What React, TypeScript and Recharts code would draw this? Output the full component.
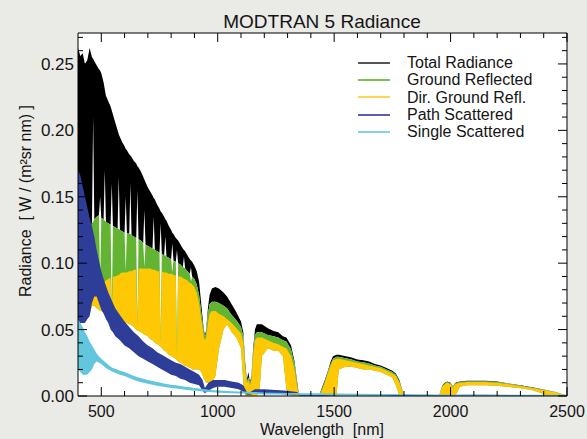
import React from 'react';
import { ComposedChart, Area, XAxis, YAxis, CartesianGrid, Legend } from 'recharts';

// main spectral grid (nm) shared by the ground-reflected components
const wavelengths = [
  400, 410, 420, 430, 440, 450, 460, 465, 470, 480,
  490, 495, 500, 510, 515, 520, 530, 540, 545, 550,
  560, 570, 575, 580, 590, 600, 605, 610, 620, 625,
  630, 640, 650, 655, 660, 670, 680, 685, 690, 700,
  710, 720, 725, 730, 740, 750, 755, 760, 770, 775,
  780, 790, 800, 805, 810, 820, 825, 830, 840, 850,
  855, 860, 870, 880, 885, 890, 900, 910, 920, 930,
  940, 945, 950, 958, 965, 975, 990, 1005, 1025, 1040,
  1060, 1080, 1100, 1110, 1118, 1125, 1132, 1138, 1145, 1152,
  1160, 1168, 1180, 1190, 1215, 1240, 1260, 1280, 1295, 1315,
  1330, 1340, 1348, 1355, 1435, 1445, 1460, 1475, 1485, 1495,
  1510, 1520, 1550, 1575, 1600, 1625, 1650, 1675, 1700, 1725,
  1750, 1765, 1780, 1790, 1800, 1810, 1950, 1965, 1975, 1985,
  2000, 2010, 2020, 2040, 2070, 2100, 2150, 2200, 2250, 2300,
  2350, 2390, 2410, 2450, 2480, 2500,
];

// lower edge of the filled bands (white shows below it)
const shadowFloor = [
  0.056, 0.056, 0.056, 0.056, 0.058, 0.062, 0.068, 0.068, 0.068, 0.066,
  0.065, 0.064, 0.064, 0.063, 0.062, 0.062, 0.061, 0.060, 0.060, 0.060,
  0.059, 0.058, 0.058, 0.057, 0.057, 0.056, 0.055, 0.055, 0.054, 0.054,
  0.053, 0.052, 0.050, 0.049, 0.049, 0.048, 0.047, 0.046, 0.046, 0.045,
  0.043, 0.042, 0.041, 0.040, 0.039, 0.038, 0.037, 0.036, 0.034, 0.034,
  0.033, 0.031, 0.030, 0.030, 0.029, 0.028, 0.027, 0.026, 0.025, 0.024,
  0.023, 0.023, 0.022, 0.021, 0.021, 0.020, 0.020, 0.020, 0.020, 0.018,
  0.013, 0.012, 0.010, 0.010, 0.010, 0.010, 0.015, 0.035, 0.050, 0.054,
  0.048, 0.044, 0.036, 0.010, 0, 0, 0, 0, 0, 0,
  0, 0, 0.005, 0.030, 0.036, 0.034, 0.034, 0.030, 0.005, 0,
  0, 0, 0, 0, 0, 0, 0, 0, 0, 0,
  0, 0.020, 0.022, 0.022, 0.021, 0.020, 0.020, 0.019, 0.018, 0.016,
  0.014, 0.008, 0, 0, 0, 0, 0, 0, 0, 0,
  0, 0, 0, 0.007, 0.008, 0.008, 0.008, 0.0078, 0.0068, 0.0058,
  0.0045, 0.002, 0, 0, 0, 0,
];

const directGround = [
  0.057, 0.057, 0.058, 0.059, 0.062, 0.070, 0.078, 0.079, 0.080, 0.082,
  0.084, 0.084, 0.085, 0.086, 0.086, 0.087, 0.088, 0.089, 0.063, 0.090,
  0.090, 0.091, 0.091, 0.092, 0.093, 0.093, 0.093, 0.093, 0.094, 0.094,
  0.094, 0.095, 0.095, 0.052, 0.096, 0.096, 0.096, 0.096, 0.096, 0.096,
  0.096, 0.095, 0.095, 0.095, 0.094, 0.094, 0.040, 0.094, 0.093, 0.093,
  0.093, 0.092, 0.092, 0.092, 0.091, 0.091, 0.030, 0.090, 0.090, 0.089,
  0.088, 0.088, 0.087, 0.085, 0.085, 0.084, 0.082, 0.078, 0.070, 0.057,
  0.045, 0.042, 0.044, 0.055, 0.062, 0.064, 0.064, 0.062, 0.060, 0.058,
  0.055, 0.051, 0.047, 0.040, 0.020, 0.010, 0.012, 0.008, 0.012, 0.030,
  0.042, 0.044, 0.044, 0.044, 0.042, 0.040, 0.039, 0.037, 0.036, 0.030,
  0.020, 0.008, 0.001, 0, 0, 0.003, 0.010, 0.018, 0.023, 0.027,
  0.028, 0.028, 0.027, 0.026, 0.025, 0.024, 0.023, 0.022, 0.021, 0.019,
  0.017, 0.015, 0.010, 0.005, 0.001, 0, 0, 0.007, 0.009, 0.010,
  0.009, 0.006, 0.009, 0.010, 0.0105, 0.0105, 0.0105, 0.010, 0.0088, 0.0075,
  0.006, 0.0048, 0.0042, 0.0028, 0.0014, 0.0005,
];

const groundReflected = [
  0.100, 0.105, 0.110, 0.112, 0.118, 0.125, 0.130, 0.131, 0.133, 0.135,
  0.136, 0.085, 0.134, 0.133, 0.132, 0.131, 0.130, 0.129, 0.064, 0.128,
  0.127, 0.126, 0.126, 0.125, 0.124, 0.123, 0.094, 0.123, 0.122, 0.122,
  0.121, 0.120, 0.119, 0.053, 0.118, 0.117, 0.115, 0.097, 0.114, 0.113,
  0.112, 0.111, 0.111, 0.110, 0.109, 0.108, 0.041, 0.107, 0.106, 0.106,
  0.105, 0.104, 0.103, 0.093, 0.102, 0.101, 0.031, 0.100, 0.099, 0.097,
  0.097, 0.096, 0.094, 0.092, 0.086, 0.090, 0.088, 0.084, 0.076, 0.062,
  0.048, 0.045, 0.047, 0.062, 0.069, 0.071, 0.071, 0.070, 0.068, 0.066,
  0.061, 0.057, 0.052, 0.045, 0.022, 0.011, 0.014, 0.009, 0.013, 0.032,
  0.046, 0.048, 0.048, 0.048, 0.046, 0.045, 0.044, 0.042, 0.041, 0.035,
  0.024, 0.010, 0.001, 0, 0, 0.004, 0.011, 0.019, 0.024, 0.028,
  0.0295, 0.0295, 0.0285, 0.0275, 0.026, 0.0255, 0.0245, 0.023, 0.022, 0.020,
  0.018, 0.016, 0.011, 0.0055, 0.001, 0, 0, 0.0075, 0.0095, 0.0105,
  0.0095, 0.0065, 0.0095, 0.0105, 0.011, 0.011, 0.011, 0.0105, 0.0092, 0.0078,
  0.0063, 0.005, 0.0044, 0.0029, 0.0015, 0.0005,
];

const totalRadiance = [
  0.262, 0.256, 0.258, 0.250, 0.253, 0.262, 0.255, 0.254, 0.252, 0.249,
  0.246, 0.245, 0.243, 0.236, 0.231, 0.226, 0.222, 0.218, 0.215, 0.212,
  0.206, 0.200, 0.197, 0.195, 0.191, 0.188, 0.186, 0.185, 0.182, 0.181,
  0.180, 0.177, 0.175, 0.173, 0.172, 0.169, 0.165, 0.163, 0.161, 0.157,
  0.154, 0.151, 0.149, 0.148, 0.144, 0.141, 0.139, 0.138, 0.135, 0.133,
  0.132, 0.128, 0.125, 0.123, 0.122, 0.119, 0.118, 0.117, 0.114, 0.111,
  0.110, 0.109, 0.106, 0.103, 0.102, 0.101, 0.098, 0.094, 0.086, 0.068,
  0.050, 0.046, 0.049, 0.066, 0.076, 0.081, 0.082, 0.081, 0.078, 0.075,
  0.069, 0.063, 0.056, 0.048, 0.025, 0.012, 0.018, 0.010, 0.015, 0.035,
  0.050, 0.054, 0.054, 0.054, 0.051, 0.049, 0.048, 0.045, 0.044, 0.038,
  0.026, 0.012, 0.002, 0, 0, 0.005, 0.012, 0.020, 0.026, 0.030,
  0.031, 0.031, 0.030, 0.029, 0.0275, 0.027, 0.026, 0.024, 0.023, 0.021,
  0.019, 0.017, 0.012, 0.006, 0.001, 0, 0, 0.008, 0.010, 0.011,
  0.010, 0.007, 0.010, 0.011, 0.0115, 0.0115, 0.0115, 0.011, 0.0095, 0.008,
  0.0065, 0.0052, 0.0046, 0.003, 0.0016, 0.0006,
];

// absorption lines: the total dips to this level (white streaks in the black band)
const streakWavelengths = [465, 495, 515, 545, 575, 605, 625, 655, 685, 725, 755, 775, 805, 825, 855, 885];
const streakTops = [0.21, 0.15, 0.17, 0.16, 0.165, 0.15, 0.16, 0.155, 0.14, 0.135, 0.13, 0.12, 0.115, 0.11, 0.105, 0.097];

// atmospheric (scattered) components on their own grid
const scatterWavelengths = [
  400, 410, 420, 430, 440, 450, 460, 470, 480, 490,
  500, 510, 520, 530, 540, 550, 560, 580, 600, 620,
  640, 660, 680, 700, 720, 740, 760, 780, 800, 820,
  840, 860, 880, 900, 920, 935, 945, 960, 980, 1000,
  1030, 1060, 1090, 1110, 1125, 1140, 1160, 1200, 1250, 1300,
  1340, 1360, 1440, 1500, 1700, 1790, 1960, 2100, 2500,
];

const pathScattered = [
  0.170, 0.166, 0.158, 0.150, 0.142, 0.134, 0.128, 0.120, 0.110, 0.102,
  0.094, 0.088, 0.083, 0.078, 0.074, 0.070, 0.066, 0.061, 0.056, 0.052,
  0.048, 0.045, 0.041, 0.038, 0.036, 0.033, 0.031, 0.029, 0.027, 0.025,
  0.024, 0.022, 0.020, 0.018, 0.016, 0.012, 0.006, 0.010, 0.012, 0.012,
  0.012, 0.011, 0.010, 0.008, 0.003, 0.003, 0.005, 0.005, 0.0045, 0.004,
  0.003, 0.0005, 0.0005, 0.0015, 0.0015, 0.0005, 0.0005, 0.001, 0.0003,
];

const pathScatteredLow = [
  0.055, 0.055, 0.055, 0.055, 0.058, 0.060, 0.070, 0.075, 0.075, 0.070,
  0.065, 0.062, 0.058, 0.055, 0.050, 0.048, 0.045, 0.042, 0.038, 0.036,
  0.033, 0.030, 0.028, 0.026, 0.024, 0.022, 0.020, 0.018, 0.016, 0.015,
  0.013, 0.012, 0.010, 0.009, 0.008, 0.004, 0.002, 0.004, 0.006, 0.007,
  0.007, 0.006, 0.005, 0.003, 0.001, 0.001, 0.002, 0.002, 0.002, 0.001,
  0.001, 0, 0, 0.0005, 0.0005, 0, 0, 0.0003, 0,
];

const singleScattered = [
  0.058, 0.055, 0.052, 0.048, 0.045, 0.041, 0.038, 0.035, 0.032, 0.030,
  0.028, 0.0265, 0.025, 0.0235, 0.022, 0.021, 0.0205, 0.019, 0.018, 0.0165,
  0.015, 0.014, 0.013, 0.012, 0.0112, 0.0105, 0.0098, 0.0091, 0.0085, 0.008,
  0.0075, 0.007, 0.0065, 0.006, 0.0056, 0.0052, 0.005, 0.0047, 0.0044, 0.0042,
  0.0039, 0.0036, 0.0034, 0.0033, 0.0032, 0.0031, 0.003, 0.0026, 0.0025, 0.0023,
  0.0022, 0.0021, 0.002, 0.0018, 0.0015, 0.0015, 0.0012, 0.0011, 0.0009,
];

const singleScatteredLow = [
  0.020, 0.018, 0.016, 0.016, 0.016, 0.018, 0.020, 0.024, 0.026, 0.025,
  0.024, 0.0225, 0.021, 0.020, 0.019, 0.018, 0.0175, 0.016, 0.015, 0.0135,
  0.012, 0.011, 0.010, 0.0092, 0.0085, 0.0078, 0.0072, 0.0066, 0.006, 0.0056,
  0.0052, 0.0048, 0.0044, 0.004, 0.0037, 0.0034, 0.0032, 0.003, 0.0028, 0.0025,
  0.0023, 0.0021, 0.0019, 0.0018, 0.0017, 0.0016, 0.0015, 0.0012, 0.0011, 0.001,
  0.0009, 0.0008, 0.0007, 0.0006, 0.0004, 0.0004, 0.0002, 0.0002, 0,
];

const xTicks = [
  500, 600, 700, 800, 900, 1000, 1100, 1200, 1300, 1400, 1500,
  1600, 1700, 1800, 1900, 2000, 2100, 2200, 2300, 2400, 2500,
];
const yTicks = [
  0, 0.01, 0.02, 0.03, 0.04, 0.05, 0.06, 0.07, 0.08, 0.09, 0.1, 0.11, 0.12, 0.13,
  0.14, 0.15, 0.16, 0.17, 0.18, 0.19, 0.2, 0.21, 0.22, 0.23, 0.24, 0.25, 0.26, 0.27,
];

const legendItems = [
  { name: 'Total Radiance', color: '#555555' },
  { name: 'Ground Reflected', color: '#7cc24a' },
  { name: 'Dir. Ground Refl.', color: '#ffd650' },
  { name: 'Path Scattered', color: '#5c5cb0' },
  { name: 'Single Scattered', color: '#86d2e4' },
];

const PLOT_LEFT = 78;
const PLOT_RIGHT = 567;
const PLOT_TOP = 33;
const PLOT_BOTTOM = 396;
const FONT = '"Liberation Sans", Arial, sans-serif';
const TEXT = '#151515';

// the page keeps the browser's 8px body margin; drop it so the chart fills the window
if (typeof document !== 'undefined') {
  document.body.style.margin = '0';
}

const mainRows = wavelengths.map((nm, i) => {
  const s = streakWavelengths.indexOf(nm);
  return {
    nm,
    floor: shadowFloor[i],
    direct: directGround[i],
    ground: groundReflected[i],
    totalBase: s >= 0 ? streakTops[s] : groundReflected[i],
    total: totalRadiance[i],
  };
});

const scatterRows = scatterWavelengths.map((nm, i) => ({
  nm,
  pathLow: pathScatteredLow[i],
  path: pathScattered[i],
  singleLow: singleScatteredLow[i],
  single: singleScattered[i],
}));

// inward ticks on bottom and top edges
const XTick = ({ x, payload }: any) => {
  const v = payload.value;
  const major = v % 500 === 0;
  const len = major ? 9 : 5;
  return (
    <g>
      <line x1={x} x2={x} y1={PLOT_BOTTOM} y2={PLOT_BOTTOM - len} stroke="#000" />
      <line x1={x} x2={x} y1={PLOT_TOP} y2={PLOT_TOP + len} stroke="#000" />
      {major && (
        <text x={x} y={416.5} textAnchor="middle" fontSize={16} fontFamily={FONT} fill={TEXT}>
          {v}
        </text>
      )}
    </g>
  );
};

// inward ticks on left and right edges
const YTick = ({ y, payload }: any) => {
  const v = payload.value;
  const major = Math.round(v * 100) % 5 === 0;
  const len = major ? 9 : 5;
  return (
    <g>
      <line x1={PLOT_LEFT} x2={PLOT_LEFT + len} y1={y} y2={y} stroke="#000" />
      <line x1={PLOT_RIGHT - len} x2={PLOT_RIGHT} y1={y} y2={y} stroke="#000" />
      {major && (
        <text x={74} y={y} dy="0.36em" textAnchor="end" fontSize={17} fontFamily={FONT} fill={TEXT}>
          {v.toFixed(2)}
        </text>
      )}
    </g>
  );
};

const PlotTitle = () => (
  <text x={322} y={28} textAnchor="middle" fontSize={19} fontFamily={FONT} fill={TEXT}>
    MODTRAN 5 Radiance
  </text>
);

const XTitle = () => (
  <text x={322} y={435} textAnchor="middle" fontSize={16} fontFamily={FONT} fill={TEXT} style={{ whiteSpace: 'pre' }}>
    {'Wavelength  [nm]'}
  </text>
);

const YTitle = () => (
  <text
    transform="translate(31,201) rotate(-90)"
    textAnchor="middle"
    fontSize={16}
    fontFamily={FONT}
    fill={TEXT}
    style={{ whiteSpace: 'pre' }}
  >
    {'Radiance  [ W / (m²sr nm) ]'}
  </text>
);

const renderLegend = () => (
  <div style={{ position: 'absolute', left: 358, top: 54, fontFamily: FONT, fontSize: 16, color: TEXT }}>
    {legendItems.map((item) => (
      <div key={item.name} style={{ display: 'flex', alignItems: 'center', height: 17.3 }}>
        <div style={{ width: 32, height: 2, background: item.color, marginRight: 17 }} />
        <span style={{ whiteSpace: 'nowrap', lineHeight: '17px' }}>{item.name}</span>
      </div>
    ))}
  </div>
);

const App = () => {
  return (
    <div style={{ width: 587, height: 439, background: '#eaeae6', position: 'relative', overflow: 'hidden' }}>
      <ComposedChart
        width={587}
        height={439}
        data={mainRows}
        margin={{ top: 32, right: 19, bottom: 0, left: 18 }}
      >
        <CartesianGrid fill="#ffffff" stroke="none" horizontal={false} vertical={false} />
        <XAxis
          dataKey="nm"
          type="number"
          domain={[400, 2500]}
          ticks={xTicks}
          interval={0}
          allowDataOverflow
          height={43}
          tickLine={false}
          axisLine={{ stroke: '#000' }}
          tick={<XTick />}
          label={<XTitle />}
        />
        <XAxis
          xAxisId="top"
          orientation="top"
          type="number"
          domain={[400, 2500]}
          height={1}
          tick={false}
          tickLine={false}
          axisLine={{ stroke: '#000' }}
          label={<PlotTitle />}
        />
        <YAxis
          type="number"
          domain={[0, 0.2733]}
          ticks={yTicks}
          interval={0}
          allowDataOverflow
          width={60}
          tickLine={false}
          axisLine={{ stroke: '#000' }}
          tick={<YTick />}
          label={<YTitle />}
        />
        <YAxis
          yAxisId="right"
          orientation="right"
          type="number"
          domain={[0, 0.2733]}
          width={1}
          tick={false}
          tickLine={false}
          axisLine={{ stroke: '#000' }}
        />
        <Legend
          layout="horizontal"
          verticalAlign="middle"
          align="center"
          content={renderLegend}
          wrapperStyle={{ left: 0, top: 0, width: 587, height: 0 }}
        />
        <Area
          name="Total Radiance"
          dataKey={(d: any) => [d.totalBase, d.total]}
          type="linear"
          stroke="none"
          fill="#000000"
          fillOpacity={1}
          isAnimationActive={false}
          dot={false}
          activeDot={false}
        />
        <Area
          name="Ground Reflected"
          dataKey={(d: any) => [d.floor, d.ground]}
          type="linear"
          stroke="none"
          fill="#62b432"
          fillOpacity={1}
          isAnimationActive={false}
          dot={false}
          activeDot={false}
        />
        <Area
          name="Dir. Ground Refl."
          dataKey={(d: any) => [d.floor, d.direct]}
          type="linear"
          stroke="none"
          fill="#ffc805"
          fillOpacity={1}
          isAnimationActive={false}
          dot={false}
          activeDot={false}
        />
        <Area
          name="Path Scattered"
          data={scatterRows}
          dataKey={(d: any) => [d.pathLow, d.path]}
          type="linear"
          stroke="none"
          fill="#2e3d98"
          fillOpacity={1}
          isAnimationActive={false}
          dot={false}
          activeDot={false}
        />
        <Area
          name="Single Scattered"
          data={scatterRows}
          dataKey={(d: any) => [d.singleLow, d.single]}
          type="linear"
          stroke="none"
          fill="#63c6df"
          fillOpacity={1}
          isAnimationActive={false}
          dot={false}
          activeDot={false}
        />
      </ComposedChart>
    </div>
  );
};

export default App;
